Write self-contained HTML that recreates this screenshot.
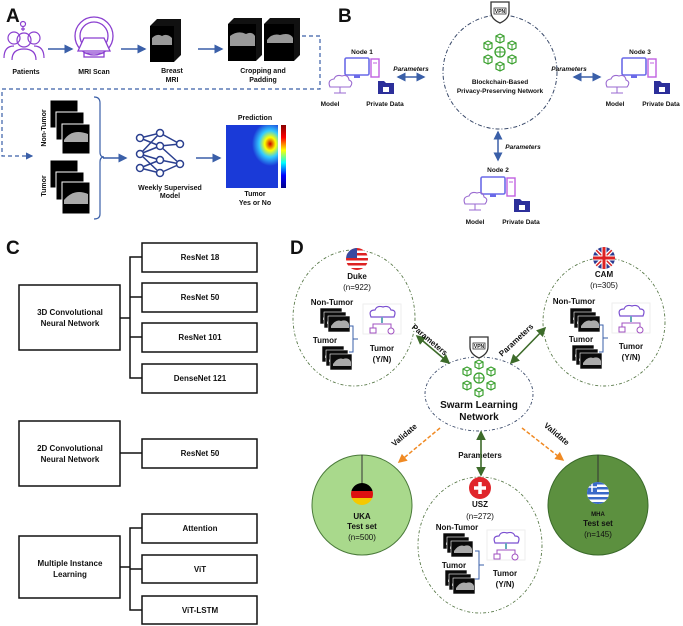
<!DOCTYPE html>
<html><head><meta charset="utf-8"><style>
html,body{margin:0;padding:0;background:#fff}
svg{display:block}
text{font-family:"Liberation Sans",Arial,sans-serif;font-weight:bold;fill:#111}
.n{font-weight:normal}
</style></head><body>
<svg width="683" height="626" viewBox="0 0 683 626" xmlns="http://www.w3.org/2000/svg">
<defs>
<marker id="ab" markerWidth="6" markerHeight="6" refX="5" refY="3" orient="auto-start-reverse"><path d="M0,0 L6,3 L0,6z" fill="#3a5fa8"/></marker>
<marker id="ag" markerWidth="6" markerHeight="6" refX="5" refY="3" orient="auto-start-reverse"><path d="M0,0 L6,3 L0,6z" fill="#3d6b2a"/></marker>
<marker id="ao" markerWidth="6" markerHeight="6" refX="5" refY="3" orient="auto"><path d="M0,0 L6,3 L0,6z" fill="#f08a24"/></marker>
<g id="slice"><rect width="22" height="16" fill="#0a0a0a" stroke="#fff" stroke-width="0.6"/><path d="M3,10 Q8,3 13,5 Q19,3 21,8 L21,12 L3,12z" fill="#aaa"/></g>
<g id="stack"><use href="#slice"/><use href="#slice" x="4" y="4"/><use href="#slice" x="8" y="8"/></g>
<g id="model"><rect x="0" y="0" width="38" height="30" fill="#fff" stroke="#eee"/><path d="M8,13 Q5,6 12,6 Q14,1 20,3 Q26,1 28,6 Q34,6 31,13z" fill="none" stroke="#7b4fd0" stroke-width="1.2"/><line x1="19" y1="13" x2="19" y2="19" stroke="#6ab" stroke-width="2"/><path d="M10,24 V20 H28 V24" fill="none" stroke="#a050c0"/><rect x="7" y="24" width="6" height="5" fill="none" stroke="#a050c0"/><circle cx="28" cy="27" r="3" fill="none" stroke="#a050c0"/></g>
<g id="cube"><path d="M0,-4 L4,-2 L4,3 L0,5 L-4,3 L-4,-2z" fill="none" stroke="#3aa02e" stroke-width="1.2"/><path d="M-4,-2 L0,0 L4,-2 M0,0 V5" fill="none" stroke="#3aa02e" stroke-width="1"/></g>
<g id="chain"><use href="#cube" x="0" y="-14"/><use href="#cube" x="-12" y="-7"/><use href="#cube" x="12" y="-7"/><use href="#cube" x="-12" y="7"/><use href="#cube" x="12" y="7"/><use href="#cube" x="0" y="14"/><circle r="5" fill="none" stroke="#3aa02e" stroke-width="1.3"/><path d="M-5,0H5M0,-5V5" stroke="#3aa02e"/></g>
<g id="pc"><rect x="0" y="0" width="24" height="17" rx="1.5" fill="#fff" stroke="#6a6ae8" stroke-width="1.6"/><rect x="9" y="17" width="6" height="3" fill="#6a6ae8"/><rect x="26" y="1" width="8" height="18" fill="#fff" stroke="#c060e0" stroke-width="1.4"/><line x1="28" y1="5" x2="32" y2="5" stroke="#c060e0"/></g>
<g id="cloud"><path d="M-10,2 Q-13,-5 -6,-6 Q-4,-11 2,-9 Q8,-11 9,-5 Q14,-3 10,2z" fill="none" stroke="#9a6ad0" stroke-width="1.1"/><path d="M0,2 V8 M-6,8 H6" stroke="#9a6ad0"/></g>
<g id="folder"><path d="M0,0 H6 L8,2 H16 V13 H0z" fill="#2c2f9a"/><rect x="5" y="6" width="6" height="5" fill="#fff"/></g>
<g id="vpn"><path d="M-9,-10 H9 V0 Q9,7 0,11 Q-9,7 -9,0z" fill="#fff" stroke="#333" stroke-width="1.3"/><rect x="-6" y="-4" width="12" height="6" fill="none" stroke="#333" stroke-width="0.8"/><text x="0" y="1" font-size="5" text-anchor="middle">VPN</text></g>
</defs>

<!-- Panel A -->
<text x="6" y="22" font-size="19">A</text>
<g stroke="#8a3fd0" fill="none" stroke-width="1.2">
<circle cx="14" cy="38" r="6"/><circle cx="34" cy="38" r="6"/><circle cx="24" cy="40" r="7"/>
<path d="M4,58 Q4,46 14,46 M44,58 Q44,46 34,46 M12,60 Q12,49 24,49 Q36,49 36,60"/>
<circle cx="23" cy="24" r="2.5"/><path d="M23,27 V31 M21,29 H25"/>
</g>
<text x="26" y="74" font-size="7" text-anchor="middle">Patients</text>
<g stroke="#8a3fd0" fill="none" stroke-width="1.3">
<circle cx="94" cy="36" r="19"/><circle cx="94" cy="36" r="14"/>
<path d="M84,38 L104,38 L110,51 L78,51z" fill="#fff"/><rect x="84" y="53" width="20" height="4"/>
</g>
<text x="94" y="74" font-size="7" text-anchor="middle">MRI Scan</text>
<g><path d="M150,26 L157,19 L181,19 L181,55 L174,62 L150,62z" fill="#111"/><rect x="150" y="26" width="24" height="36" fill="#000"/><path d="M152,38 Q157,33 162,36 Q167,33 172,38 L172,45 L152,45z" fill="#999"/></g>
<text x="172" y="73" font-size="7" text-anchor="middle">Breast</text><text x="172" y="82" font-size="7" text-anchor="middle">MRI</text>
<g><path d="M228,24 L234,18 L262,18 L262,55 L256,61 L228,61z" fill="#111"/><rect x="228" y="24" width="28" height="37" fill="#000"/><path d="M230,36 Q238,30 246,34 Q252,31 255,36 L255,46 L230,46z" fill="#999"/>
<path d="M264,24 L270,18 L300,18 L300,55 L294,61 L264,61z" fill="#111"/><rect x="264" y="24" width="30" height="37" fill="#000"/><path d="M267,40 Q272,33 280,35 Q290,32 293,38 L293,43 L267,43z" fill="#999"/></g>
<text x="263" y="73" font-size="7" text-anchor="middle">Cropping and</text><text x="263" y="82" font-size="7" text-anchor="middle">Padding</text>
<g stroke="#3a5fa8" stroke-width="1.5" marker-end="url(#ab)"><line x1="48" y1="49" x2="72" y2="49"/><line x1="121" y1="49" x2="145" y2="49"/><line x1="198" y1="49" x2="222" y2="49"/></g>
<path d="M302,36 H320 V89 H2 V156 H32" fill="none" stroke="#3a5fa8" stroke-width="1.2" stroke-dasharray="4,3" marker-end="url(#ab)"/>
<g><rect x="50" y="100" width="28" height="28" fill="#000" stroke="#fff"/><rect x="56" y="112" width="28" height="28" fill="#000" stroke="#fff"/><rect x="62" y="124" width="28" height="30" fill="#000" stroke="#fff"/><path d="M64,140 Q72,128 88,134 L88,142 L64,142z" fill="#aaa"/>
<rect x="50" y="160" width="28" height="28" fill="#000" stroke="#fff"/><rect x="56" y="172" width="28" height="28" fill="#000" stroke="#fff"/><rect x="62" y="182" width="28" height="32" fill="#000" stroke="#fff"/><path d="M64,200 Q74,188 88,194 L88,204 L64,204z" fill="#aaa"/></g>
<text transform="translate(46,128) rotate(-90)" font-size="7" text-anchor="middle">Non-Tumor</text>
<text transform="translate(46,186) rotate(-90)" font-size="7" text-anchor="middle">Tumor</text>
<path d="M94,97 Q100,97 100,103 V152 Q100,157 104,157 Q100,157 100,162 V214 Q100,219 94,219" fill="none" stroke="#3a5fa8" stroke-width="1.2"/>
<line x1="103" y1="158" x2="126" y2="158" stroke="#3a5fa8" stroke-width="1.5" marker-end="url(#ab)"/>
<g stroke="#2a3f8f" stroke-width="1.5" fill="#fff">
<path d="M140,138 L160,133 L180,144 M140,138 L160,146 L180,164 M140,154 L160,133 M140,154 L160,146 M140,154 L160,160 M140,154 L160,173 M140,168 L160,160 M140,168 L160,173 M160,146 L180,144 M160,160 L180,164 M160,173 L180,164 M160,133 L180,144" fill="none"/>
<circle cx="140" cy="138" r="3.5"/><circle cx="140" cy="154" r="3.5"/><circle cx="140" cy="168" r="3.5"/>
<circle cx="160" cy="133" r="3.5"/><circle cx="160" cy="146" r="3.5"/><circle cx="160" cy="160" r="3.5"/><circle cx="160" cy="173" r="3.5"/>
<circle cx="180" cy="144" r="3.5"/><circle cx="180" cy="164" r="3.5"/></g>
<text x="170" y="190" font-size="7" text-anchor="middle">Weekly Supervised</text><text x="170" y="198" font-size="7" text-anchor="middle">Model</text>
<line x1="196" y1="158" x2="220" y2="158" stroke="#3a5fa8" stroke-width="1.5" marker-end="url(#ab)"/>
<defs><radialGradient id="hot" cx="0.85" cy="0.3" r="0.35"><stop offset="0" stop-color="#c00"/><stop offset="0.3" stop-color="#ff0"/><stop offset="0.6" stop-color="#3cf"/><stop offset="1" stop-color="#1a3ad8"/></radialGradient>
<linearGradient id="cb" x1="0" y1="0" x2="0" y2="1"><stop offset="0" stop-color="#800"/><stop offset="0.2" stop-color="#f00"/><stop offset="0.4" stop-color="#ff0"/><stop offset="0.6" stop-color="#0ff"/><stop offset="0.8" stop-color="#00f"/><stop offset="1" stop-color="#008"/></linearGradient></defs>
<rect x="226" y="125" width="52" height="63" fill="#1a3ad8"/><rect x="226" y="125" width="52" height="63" fill="url(#hot)"/>
<rect x="281" y="125" width="5" height="63" fill="url(#cb)"/>
<text x="255" y="120" font-size="7" text-anchor="middle">Prediction</text>
<text x="255" y="196" font-size="7" text-anchor="middle">Tumor</text><text x="255" y="205" font-size="7" text-anchor="middle">Yes or No</text>

<!-- Panel B -->
<text x="338" y="22" font-size="19">B</text>
<circle cx="500" cy="72" r="57" fill="none" stroke="#3a4a6a" stroke-width="1" stroke-dasharray="4,2,1,2"/>
<use href="#vpn" x="500" y="12"/>
<use href="#chain" x="500" y="52"/>
<text x="500" y="84" font-size="6.5" text-anchor="middle">Blockchain-Based</text><text x="500" y="93" font-size="6.5" text-anchor="middle">Privacy-Preserving Network</text>
<text x="362" y="54" font-size="6.5" text-anchor="middle">Node 1</text><use href="#pc" x="345" y="58"/><use href="#cloud" x="340" y="85"/><use href="#folder" x="378" y="81"/>
<text x="330" y="106" font-size="6.5" text-anchor="middle">Model</text><text x="385" y="106" font-size="6.5" text-anchor="middle">Private Data</text>
<text x="411" y="71" font-size="6.5" font-style="italic" text-anchor="middle">Parameters</text>
<line x1="398" y1="77" x2="424" y2="77" stroke="#3a5fa8" stroke-width="1.5" marker-start="url(#ab)" marker-end="url(#ab)"/>
<text x="640" y="54" font-size="6.5" text-anchor="middle">Node 3</text><use href="#pc" x="622" y="58"/><use href="#cloud" x="617" y="85"/><use href="#folder" x="654" y="81"/>
<text x="615" y="106" font-size="6.5" text-anchor="middle">Model</text><text x="661" y="106" font-size="6.5" text-anchor="middle">Private Data</text>
<text x="569" y="71" font-size="6.5" font-style="italic" text-anchor="middle">Parameters</text>
<line x1="574" y1="77" x2="600" y2="77" stroke="#3a5fa8" stroke-width="1.5" marker-start="url(#ab)" marker-end="url(#ab)"/>
<line x1="498" y1="132" x2="498" y2="160" stroke="#3a5fa8" stroke-width="1.5" marker-start="url(#ab)" marker-end="url(#ab)"/>
<text x="523" y="149" font-size="6.5" font-style="italic" text-anchor="middle">Parameters</text>
<text x="498" y="172" font-size="6.5" text-anchor="middle">Node 2</text><use href="#pc" x="481" y="177"/><use href="#cloud" x="475" y="202"/><use href="#folder" x="514" y="199"/>
<text x="475" y="224" font-size="6.5" text-anchor="middle">Model</text><text x="521" y="224" font-size="6.5" text-anchor="middle">Private Data</text>

<!-- Panel C -->
<text x="6" y="254" font-size="19">C</text>
<g fill="#fff" stroke="#111" stroke-width="1.5">
<rect x="19" y="285" width="101" height="65"/><rect x="19" y="421" width="101" height="65"/><rect x="19" y="536" width="101" height="62"/>
<rect x="142" y="243" width="115" height="29"/><rect x="142" y="283" width="115" height="29"/><rect x="142" y="323" width="115" height="29"/><rect x="142" y="364" width="115" height="29"/>
<rect x="142" y="439" width="115" height="29"/>
<rect x="142" y="514" width="115" height="29"/><rect x="142" y="555" width="115" height="28"/><rect x="142" y="596" width="115" height="28"/>
<path d="M120,318 H130 M142,257 H130 V378 H142 M130,297 H142 M130,337 H142 M120,453 H142 M120,567 H130 M142,528 H130 V610 H142 M130,569 H142" fill="none"/>
</g>
<g font-size="8" text-anchor="middle">
<text x="70" y="315">3D Convolutional</text><text x="70" y="326">Neural Network</text>
<text x="70" y="451">2D Convolutional</text><text x="70" y="462">Neural Network</text>
<text x="70" y="566">Multiple Instance</text><text x="70" y="577">Learning</text>
<text x="200" y="260">ResNet 18</text><text x="200" y="300">ResNet 50</text><text x="200" y="340">ResNet 101</text><text x="200" y="381">DenseNet 121</text>
<text x="200" y="456">ResNet 50</text><text x="200" y="531">Attention</text><text x="200" y="572">ViT</text><text x="200" y="613">ViT-LSTM</text>
</g>

<!-- Panel D -->
<text x="290" y="254" font-size="19">D</text>
<g fill="none" stroke="#5a7a4a" stroke-width="0.9" stroke-dasharray="3,2,1,2">
<ellipse cx="354" cy="318" rx="61" ry="68"/><ellipse cx="604" cy="322" rx="61" ry="64"/><ellipse cx="480" cy="545" rx="62" ry="68"/>
</g>
<ellipse cx="479" cy="394" rx="54" ry="37" fill="none" stroke="#3a4a6a" stroke-width="0.9" stroke-dasharray="3,2,1,2"/>
<circle cx="362" cy="505" r="50" fill="#a9d98c" stroke="#4a7a3a"/><line x1="362" y1="455" x2="362" y2="484" stroke="#333"/>
<circle cx="598" cy="505" r="50" fill="#5c903f" stroke="#3a6a2a"/><line x1="598" y1="455" x2="598" y2="484" stroke="#333"/>
<!-- flags -->
<clipPath id="cf1"><circle cx="357" cy="259" r="11"/></clipPath>
<g clip-path="url(#cf1)"><rect x="346" y="248" width="22" height="22" fill="#fff"/><g fill="#d22"><rect x="346" y="248" width="22" height="2.5"/><rect x="346" y="253" width="22" height="2.5"/><rect x="346" y="258" width="22" height="2.5"/><rect x="346" y="263" width="22" height="2.5"/><rect x="346" y="268" width="22" height="2.5"/></g><rect x="346" y="248" width="11" height="10" fill="#3a4aa0"/></g>
<clipPath id="cf2"><circle cx="604" cy="258" r="11"/></clipPath>
<g clip-path="url(#cf2)"><rect x="593" y="247" width="22" height="22" fill="#2a3a90"/><path d="M593,247 L615,269 M615,247 L593,269" stroke="#fff" stroke-width="4"/><path d="M593,247 L615,269 M615,247 L593,269" stroke="#d22" stroke-width="1.5"/><path d="M604,247 V269 M593,258 H615" stroke="#fff" stroke-width="5"/><path d="M604,247 V269 M593,258 H615" stroke="#d22" stroke-width="3"/></g>
<circle cx="480" cy="488" r="11" fill="#e0262b"/><path d="M480,482 V494 M474,488 H486" stroke="#fff" stroke-width="3.5"/>
<clipPath id="cf3"><circle cx="362" cy="494" r="11"/></clipPath>
<g clip-path="url(#cf3)"><rect x="351" y="483" width="22" height="8" fill="#000"/><rect x="351" y="491" width="22" height="7" fill="#dd1111"/><rect x="351" y="498" width="22" height="8" fill="#f5c800"/></g>
<clipPath id="cf4"><circle cx="598" cy="493" r="11"/></clipPath>
<g clip-path="url(#cf4)"><rect x="587" y="482" width="22" height="22" fill="#fff"/><g fill="#3a6ac8"><rect x="587" y="482" width="22" height="2.5"/><rect x="587" y="487" width="22" height="2.5"/><rect x="587" y="492" width="22" height="2.5"/><rect x="587" y="497" width="22" height="2.5"/><rect x="587" y="502" width="22" height="2.5"/></g><rect x="587" y="482" width="10" height="10" fill="#3a6ac8"/><path d="M592,482 V492 M587,487 H597" stroke="#fff" stroke-width="1.5"/></g>
<!-- contents of sites -->
<g font-size="8" text-anchor="middle">
<text x="357" y="279">Duke</text><text x="357" y="290" class="n">(n=922)</text>
<text x="332" y="305">Non-Tumor</text><text x="325" y="343">Tumor</text><text x="382" y="351">Tumor</text><text x="382" y="362">(Y/N)</text>
<text x="604" y="277">CAM</text><text x="604" y="288" class="n">(n=305)</text>
<text x="574" y="304">Non-Tumor</text><text x="581" y="342">Tumor</text><text x="631" y="349">Tumor</text><text x="631" y="360">(Y/N)</text>
<text x="480" y="507">USZ</text><text x="480" y="519" class="n">(n=272)</text>
<text x="457" y="530">Non-Tumor</text><text x="454" y="568">Tumor</text><text x="505" y="576">Tumor</text><text x="505" y="587">(Y/N)</text>
<text x="362" y="519">UKA</text><text x="362" y="529">Test set</text><text x="362" y="540" class="n">(n=500)</text>
<text x="598" y="516" font-size="6">MHA</text><text x="598" y="526">Test set</text><text x="598" y="537" class="n">(n=145)</text>
<text x="480" y="458" font-weight="normal" style="font-weight:bold">Parameters</text>
</g>
<use href="#stack" x="320" y="308"/><use href="#stack" x="322" y="346"/>
<use href="#stack" x="570" y="308"/><use href="#stack" x="572" y="345"/>
<use href="#stack" x="443" y="533"/><use href="#stack" x="445" y="570"/>
<use href="#model" x="363" y="304"/><use href="#model" x="612" y="303"/><use href="#model" x="487" y="530"/>
<g fill="none" stroke="#3a5fa8" stroke-width="1"><path d="M349,326 H353 V352 H349 M353,339 H358"/><path d="M599,325 H603 V352 H599 M603,338 H608"/><path d="M475,551 H479 V579 H475 M479,565 H484"/></g>
<use href="#vpn" x="479" y="347"/>
<use href="#chain" x="479" y="378" transform=""/>
<text x="479" y="408" font-size="10" text-anchor="middle">Swarm Learning</text><text x="479" y="420" font-size="10" text-anchor="middle">Network</text>
<g stroke="#3d6b2a" stroke-width="1.6" marker-start="url(#ag)" marker-end="url(#ag)">
<line x1="417" y1="336" x2="449" y2="363"/><line x1="545" y1="328" x2="511" y2="363"/><line x1="481" y1="432" x2="481" y2="475"/></g>
<text transform="translate(428,342) rotate(40)" font-size="8" text-anchor="middle">Parameters</text>
<text transform="translate(518,342) rotate(-43)" font-size="8" text-anchor="middle">Parameters</text>
<g stroke="#f08a24" stroke-width="1.5" stroke-dasharray="4,2" marker-end="url(#ao)"><line x1="440" y1="428" x2="399" y2="462"/><line x1="522" y1="428" x2="563" y2="460"/></g>
<text transform="translate(406,437) rotate(-40)" font-size="8" text-anchor="middle">Validate</text>
<text transform="translate(555,436) rotate(40)" font-size="8" text-anchor="middle">Validate</text>
</svg>
</body></html>
